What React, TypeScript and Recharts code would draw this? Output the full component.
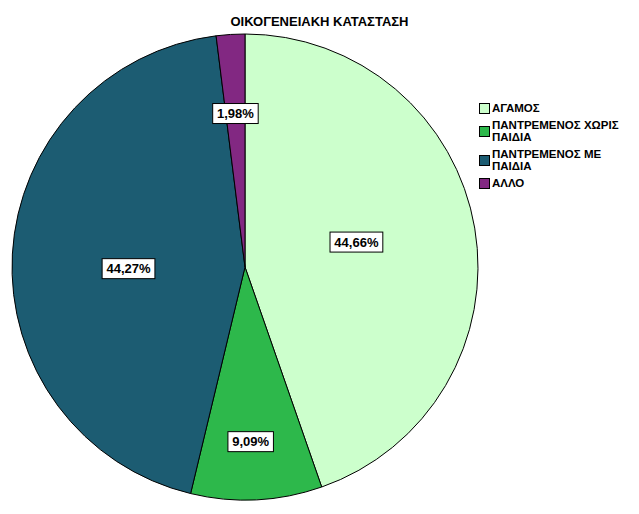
import React from "react";
import { PieChart, Pie, Cell } from "recharts";

const categories = ["ΑΓΑΜΟΣ", "ΠΑΝΤΡΕΜΕΝΟΣ ΧΩΡΙΣ ΠΑΙΔΙΑ", "ΠΑΝΤΡΕΜΕΝΟΣ ΜΕ ΠΑΙΔΙΑ", "ΑΛΛΟ"];
const legendLines = [["ΑΓΑΜΟΣ"], ["ΠΑΝΤΡΕΜΕΝΟΣ ΧΩΡΙΣ", "ΠΑΙΔΙΑ"], ["ΠΑΝΤΡΕΜΕΝΟΣ ΜΕ", "ΠΑΙΔΙΑ"], ["ΑΛΛΟ"]];
const values = [44.66, 9.09, 44.27, 1.98];
const valueLabels = ["44,66%", "9,09%", "44,27%", "1,98%"];
const colors = ["#CCFFCC", "#2DB84B", "#1C5C72", "#822882"];
const labelRadiusFrac = [0.49, 0.75, 0.5, 0.66];
const labelAngleShift = [3, -1, 4, 0];
const title = "ΟΙΚΟΓΕΝΕΙΑΚΗ ΚΑΤΑΣΤΑΣΗ";

const data = categories.map((name, i) => ({ name, value: values[i], label: valueLabels[i] }));

const FONT = "'Liberation Sans', Arial, sans-serif";

const renderLabel = (props: any) => {
  const { cx, cy, midAngle, outerRadius, index } = props;
  const RAD = Math.PI / 180;
  const r = outerRadius * labelRadiusFrac[index];
  const a = midAngle + labelAngleShift[index];
  const x = cx + r * Math.cos(-a * RAD);
  const y = cy + r * Math.sin(-a * RAD);
  const text = valueLabels[index];
  const w = text.length * 7.3 + 9;
  const h = 20;
  return (
    <g>
      <rect x={x - w / 2} y={y - h / 2} width={w} height={h} fill="#fff" stroke="#000" strokeWidth={1} />
      <text x={x} y={y} dy={4.5} textAnchor="middle" fontFamily={FONT} fontWeight="bold" fontSize={13} fill="#000">
        {text}
      </text>
    </g>
  );
};

const LegendBox = () => (
  <div
    style={{
      position: "absolute",
      left: 479,
      top: 102,
      width: 160,
      fontFamily: FONT,
      fontWeight: "bold",
      fontSize: 11.5,
      color: "#000",
    }}
  >
    {legendLines.map((lines, i) => (
      <div key={i} style={{ display: "flex", alignItems: "center", marginBottom: 5 }}>
        <div
          style={{
            width: 9,
            height: 9,
            background: colors[i],
            border: "1px solid #000",
            marginRight: 2,
            flexShrink: 0,
          }}
        />
        <div style={{ lineHeight: "12px" }}>
          {lines.map((l, j) => (
            <div key={j}>{l}</div>
          ))}
        </div>
      </div>
    ))}
  </div>
);

export default function App() {
  return (
    <div style={{ position: "absolute", left: 0, top: 0, width: 639, height: 514, background: "#fff" }}>
      <div
        style={{
          position: "absolute",
          left: 0,
          top: 14,
          width: 639,
          textAlign: "center",
          fontFamily: FONT,
          fontWeight: "bold",
          fontSize: 13,
          color: "#000",
        }}
      >
        {title}
      </div>
      <PieChart
        width={639}
        height={514}
        margin={{ top: 0, right: 0, bottom: 0, left: 0 }}
        style={{ position: "absolute", left: 0, top: 0 }}
      >
        <Pie
          data={data}
          dataKey="value"
          nameKey="name"
          cx={245}
          cy={267}
          outerRadius={233}
          startAngle={90}
          endAngle={-270}
          stroke="#000"
          strokeWidth={1}
          label={renderLabel}
          labelLine={false}
          isAnimationActive={false}
        >
          {data.map((d, i) => (
            <Cell key={d.name} fill={colors[i]} />
          ))}
        </Pie>
      </PieChart>
      <LegendBox />
    </div>
  );
}
